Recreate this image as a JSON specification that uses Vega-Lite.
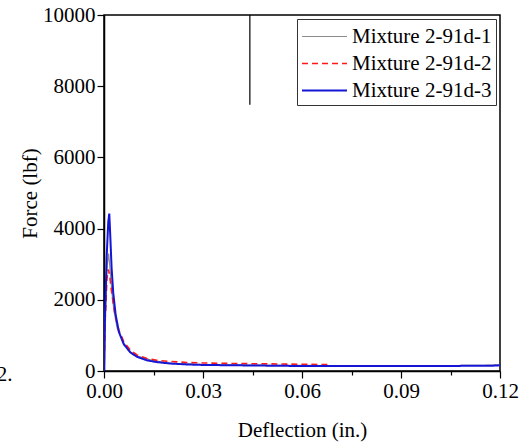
{
  "$schema": "https://vega.github.io/schema/vega-lite/v6.json",
  "width": 396,
  "height": 356,
  "autosize": "none",
  "padding": {"left": 104, "top": 15, "right": 24, "bottom": 77},
  "background": "white",
  "config": {
    "view": {"stroke": "black", "strokeWidth": 1.5},
    "font": "Liberation Serif"
  },
  "datasets": {
    "curves": [
      {"s": "Mixture 2-91d-1", "x": 0, "y": 0},
      {"s": "Mixture 2-91d-1", "x": 0.0005, "y": 1800},
      {"s": "Mixture 2-91d-1", "x": 0.001, "y": 3000},
      {"s": "Mixture 2-91d-1", "x": 0.0014, "y": 3300},
      {"s": "Mixture 2-91d-1", "x": 0.0018, "y": 2900},
      {"s": "Mixture 2-91d-1", "x": 0.0024, "y": 2200},
      {"s": "Mixture 2-91d-1", "x": 0.003, "y": 1700},
      {"s": "Mixture 2-91d-1", "x": 0.004, "y": 1200},
      {"s": "Mixture 2-91d-1", "x": 0.006, "y": 780},
      {"s": "Mixture 2-91d-1", "x": 0.008, "y": 540},
      {"s": "Mixture 2-91d-1", "x": 0.01, "y": 420},
      {"s": "Mixture 2-91d-1", "x": 0.015, "y": 290},
      {"s": "Mixture 2-91d-1", "x": 0.02, "y": 220},
      {"s": "Mixture 2-91d-1", "x": 0.03, "y": 180},
      {"s": "Mixture 2-91d-1", "x": 0.05, "y": 160},
      {"s": "Mixture 2-91d-1", "x": 0.08, "y": 150},
      {"s": "Mixture 2-91d-1", "x": 0.1, "y": 150},
      {"s": "Mixture 2-91d-1", "x": 0.115, "y": 160},
      {"s": "Mixture 2-91d-1", "x": 0.12, "y": 175},
      {"s": "Mixture 2-91d-2", "x": 0, "y": 0},
      {"s": "Mixture 2-91d-2", "x": 0.0004, "y": 1500},
      {"s": "Mixture 2-91d-2", "x": 0.0009, "y": 2600},
      {"s": "Mixture 2-91d-2", "x": 0.0013, "y": 2850},
      {"s": "Mixture 2-91d-2", "x": 0.0017, "y": 2700},
      {"s": "Mixture 2-91d-2", "x": 0.0022, "y": 2300},
      {"s": "Mixture 2-91d-2", "x": 0.0028, "y": 1900},
      {"s": "Mixture 2-91d-2", "x": 0.0035, "y": 1500},
      {"s": "Mixture 2-91d-2", "x": 0.0045, "y": 1150},
      {"s": "Mixture 2-91d-2", "x": 0.006, "y": 820},
      {"s": "Mixture 2-91d-2", "x": 0.008, "y": 580},
      {"s": "Mixture 2-91d-2", "x": 0.01, "y": 450},
      {"s": "Mixture 2-91d-2", "x": 0.013, "y": 350},
      {"s": "Mixture 2-91d-2", "x": 0.016, "y": 300},
      {"s": "Mixture 2-91d-2", "x": 0.02, "y": 270},
      {"s": "Mixture 2-91d-2", "x": 0.025, "y": 240},
      {"s": "Mixture 2-91d-2", "x": 0.03, "y": 225},
      {"s": "Mixture 2-91d-2", "x": 0.04, "y": 210},
      {"s": "Mixture 2-91d-2", "x": 0.05, "y": 200},
      {"s": "Mixture 2-91d-2", "x": 0.06, "y": 190},
      {"s": "Mixture 2-91d-2", "x": 0.068, "y": 180},
      {"s": "Mixture 2-91d-3", "x": 0, "y": 0},
      {"s": "Mixture 2-91d-3", "x": 0.0003, "y": 1500},
      {"s": "Mixture 2-91d-3", "x": 0.0008, "y": 3200},
      {"s": "Mixture 2-91d-3", "x": 0.0013, "y": 4200},
      {"s": "Mixture 2-91d-3", "x": 0.0016, "y": 4420},
      {"s": "Mixture 2-91d-3", "x": 0.0019, "y": 3800},
      {"s": "Mixture 2-91d-3", "x": 0.0023, "y": 2900},
      {"s": "Mixture 2-91d-3", "x": 0.0028, "y": 2200},
      {"s": "Mixture 2-91d-3", "x": 0.0035, "y": 1600},
      {"s": "Mixture 2-91d-3", "x": 0.0045, "y": 1100},
      {"s": "Mixture 2-91d-3", "x": 0.006, "y": 750},
      {"s": "Mixture 2-91d-3", "x": 0.008, "y": 520},
      {"s": "Mixture 2-91d-3", "x": 0.01, "y": 400},
      {"s": "Mixture 2-91d-3", "x": 0.013, "y": 300},
      {"s": "Mixture 2-91d-3", "x": 0.016, "y": 250},
      {"s": "Mixture 2-91d-3", "x": 0.02, "y": 210},
      {"s": "Mixture 2-91d-3", "x": 0.025, "y": 185},
      {"s": "Mixture 2-91d-3", "x": 0.03, "y": 170},
      {"s": "Mixture 2-91d-3", "x": 0.04, "y": 160},
      {"s": "Mixture 2-91d-3", "x": 0.05, "y": 150},
      {"s": "Mixture 2-91d-3", "x": 0.06, "y": 140},
      {"s": "Mixture 2-91d-3", "x": 0.07, "y": 140},
      {"s": "Mixture 2-91d-3", "x": 0.08, "y": 140},
      {"s": "Mixture 2-91d-3", "x": 0.09, "y": 140},
      {"s": "Mixture 2-91d-3", "x": 0.1, "y": 140},
      {"s": "Mixture 2-91d-3", "x": 0.11, "y": 145},
      {"s": "Mixture 2-91d-3", "x": 0.118, "y": 150},
      {"s": "Mixture 2-91d-3", "x": 0.12, "y": 160}
    ],
    "marker": [{"x": 0.0442, "y": 7480, "y2": 10000}],
    "note": [{"x": -0.0325, "y": -110, "t": "2."}]
  },
  "layer": [
    {
      "data": {"name": "curves"},
      "mark": {"type": "line", "clip": true},
      "encoding": {
        "x": {
          "field": "x", "type": "quantitative",
          "scale": {"domain": [0, 0.12], "nice": false, "zero": false},
          "axis": {
            "title": "Deflection (in.)",
            "values": [0, 0.015, 0.03, 0.045, 0.06, 0.075, 0.09, 0.105, 0.12],
            "labelExpr": "(round(datum.value*1000) % 30 === 0) ? format(datum.value, '.2f') : ''",
            "tickSize": {"condition": {"test": "round(datum.value*1000) % 30 === 0", "value": 7}, "value": 4},
            "labelFont": "Liberation Serif",
            "titleFont": "Liberation Serif",
            "labelFontSize": 21,
            "titleFontSize": 21,
            "titleFontWeight": "normal",
            "labelColor": "black",
            "titleColor": "black",
            "domainColor": "black",
            "domainWidth": 1.5,
            "tickColor": "black",
            "tickWidth": 1.2,
            "grid": false,
            "labelPadding": 2,
            "titlePadding": 18,
            "labelFlush": false
          }
        },
        "y": {
          "field": "y", "type": "quantitative",
          "scale": {"domain": [0, 10000], "nice": false},
          "axis": {
            "title": "Force (lbf)",
            "values": [0, 1000, 2000, 3000, 4000, 5000, 6000, 7000, 8000, 9000, 10000],
            "labelExpr": "(datum.value % 2000 === 0) ? format(datum.value, 'd') : ''",
            "tickSize": {"condition": {"test": "datum.value % 2000 === 0", "value": 7}, "value": 4},
            "labelFont": "Liberation Serif",
            "titleFont": "Liberation Serif",
            "labelFontSize": 21,
            "titleFontSize": 21,
            "titleFontWeight": "normal",
            "labelColor": "black",
            "titleColor": "black",
            "domainColor": "black",
            "domainWidth": 1.5,
            "tickColor": "black",
            "tickWidth": 1.2,
            "grid": false,
            "labelPadding": 2,
            "titlePadding": 2,
            "labelFlush": false
          }
        },
        "color": {
          "field": "s", "type": "nominal",
          "scale": {"domain": ["Mixture 2-91d-1", "Mixture 2-91d-2", "Mixture 2-91d-3"], "range": ["#8c8c8c", "#ff1a1a", "#1515d6"]},
          "legend": {
            "title": null,
            "orient": "top-right",
            "offset": 4,
            "strokeColor": "#333333",
            "fillColor": "white",
            "padding": 4,
            "labelFont": "Liberation Serif",
            "labelFontSize": 21,
            "labelColor": "black",
            "symbolType": "M-1,0H2.6",
            "symbolSize": 625,
            "symbolStrokeWidth": 2,
            "rowPadding": 3,
            "labelOffset": 24
          }
        },
        "strokeDash": {
          "field": "s", "type": "nominal",
          "scale": {"domain": ["Mixture 2-91d-1", "Mixture 2-91d-2", "Mixture 2-91d-3"], "range": [[1, 0], [6, 4], [1, 0]]}
        },
        "strokeWidth": {
          "field": "s", "type": "nominal",
          "scale": {"domain": ["Mixture 2-91d-1", "Mixture 2-91d-2", "Mixture 2-91d-3"], "range": [1.2, 2, 2.2]},
          "legend": null
        },
        "order": {"field": "x", "type": "quantitative"}
      }
    },
    {
      "data": {"name": "marker"},
      "mark": {"type": "rule", "color": "black", "strokeWidth": 1.2},
      "encoding": {
        "x": {"field": "x", "type": "quantitative"},
        "y": {"field": "y", "type": "quantitative"},
        "y2": {"field": "y2"}
      }
    },
    {
      "data": {"name": "note"},
      "mark": {"type": "text", "clip": false, "font": "Liberation Serif", "fontSize": 21, "color": "black", "align": "left", "baseline": "middle"},
      "encoding": {
        "x": {"field": "x", "type": "quantitative"},
        "y": {"field": "y", "type": "quantitative"},
        "text": {"field": "t"}
      }
    }
  ]
}
